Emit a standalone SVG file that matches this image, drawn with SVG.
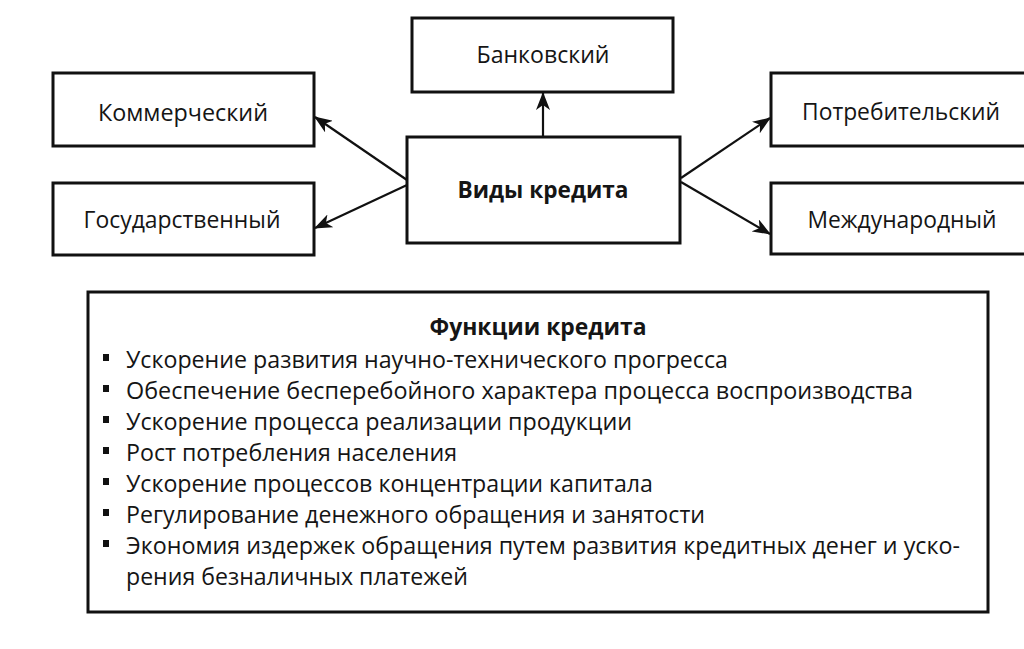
<svg xmlns="http://www.w3.org/2000/svg" width="1024" height="649" viewBox="0 0 1024 649">
<defs>
<style>
.box{fill:#fff;stroke:#111;stroke-width:3}
.t{font-family:"Open Sans","Noto Sans","Liberation Sans",sans-serif;font-size:23px;fill:#151515}
.b{font-weight:bold}
.c{text-anchor:middle}
.edge{stroke:#111;stroke-width:2.2;fill:none}
.bul{fill:#111}
</style>
<marker id="ah" markerUnits="userSpaceOnUse" markerWidth="18" markerHeight="14" viewBox="0 0 18 14" refX="17" refY="7" orient="auto">
<path d="M0,0 L18,7 L0,14 L5,7 z" fill="#111"/>
</marker>
</defs>
<rect width="1024" height="649" fill="#fff"/>
<g id="connectors">
<line class="edge" x1="543" y1="137" x2="543" y2="93" marker-end="url(#ah)"/>
<line class="edge" x1="407" y1="180" x2="315" y2="117" marker-end="url(#ah)"/>
<line class="edge" x1="407" y1="185" x2="315" y2="228" marker-end="url(#ah)"/>
<line class="edge" x1="681" y1="178" x2="770" y2="118" marker-end="url(#ah)"/>
<line class="edge" x1="681" y1="182" x2="770" y2="234" marker-end="url(#ah)"/>
</g>
<g id="bank">
<rect class="box" x="412" y="18" width="261" height="74"/>
<text class="t c" x="543" y="63" textLength="133" lengthAdjust="spacingAndGlyphs">Банковский</text>
</g>
<g id="center">
<rect class="box" x="407" y="137" width="273" height="106"/>
<text class="t b c" x="543" y="198" textLength="171" lengthAdjust="spacingAndGlyphs">Виды кредита</text>
</g>
<g id="commercial">
<rect class="box" x="53" y="73" width="261" height="73"/>
<text class="t c" x="183" y="121" textLength="170" lengthAdjust="spacingAndGlyphs">Коммерческий</text>
</g>
<g id="state">
<rect class="box" x="53" y="183" width="261" height="72"/>
<text class="t c" x="182" y="228" textLength="197" lengthAdjust="spacingAndGlyphs">Государственный</text>
</g>
<g id="consumer">
<rect class="box" x="771" y="73" width="270" height="73"/>
<text class="t c" x="901" y="120" textLength="198" lengthAdjust="spacingAndGlyphs">Потребительский</text>
</g>
<g id="international">
<rect class="box" x="771" y="183" width="270" height="71"/>
<text class="t c" x="902" y="228" textLength="189" lengthAdjust="spacingAndGlyphs">Международный</text>
</g>
<g id="functions">
<rect class="box" x="88" y="292" width="900" height="320"/>
<text class="t b c" x="538" y="335" textLength="217" lengthAdjust="spacingAndGlyphs">Функции кредита</text>
<rect class="bul" x="103" y="354" width="6" height="7"/>
<rect class="bul" x="103" y="385" width="6" height="7"/>
<rect class="bul" x="103" y="416" width="6" height="7"/>
<rect class="bul" x="103" y="447" width="6" height="7"/>
<rect class="bul" x="103" y="478" width="6" height="7"/>
<rect class="bul" x="103" y="509" width="6" height="7"/>
<rect class="bul" x="103" y="540" width="6" height="7"/>
<text class="t" x="126" y="368" textLength="602" lengthAdjust="spacingAndGlyphs">Ускорение развития научно-технического прогресса</text>
<text class="t" x="126" y="399" textLength="787" lengthAdjust="spacingAndGlyphs">Обеспечение бесперебойного характера процесса воспроизводства</text>
<text class="t" x="126" y="430" textLength="506" lengthAdjust="spacingAndGlyphs">Ускорение процесса реализации продукции</text>
<text class="t" x="126" y="461" textLength="331" lengthAdjust="spacingAndGlyphs">Рост потребления населения</text>
<text class="t" x="126" y="492" textLength="527" lengthAdjust="spacingAndGlyphs">Ускорение процессов концентрации капитала</text>
<text class="t" x="126" y="523" textLength="579" lengthAdjust="spacingAndGlyphs">Регулирование денежного обращения и занятости</text>
<text class="t" x="126" y="554" textLength="834" lengthAdjust="spacingAndGlyphs">Экономия издержек обращения путем развития кредитных денег и уско-</text>
<text class="t" x="126" y="585" textLength="342" lengthAdjust="spacingAndGlyphs">рения безналичных платежей</text>
</g>
</svg>
